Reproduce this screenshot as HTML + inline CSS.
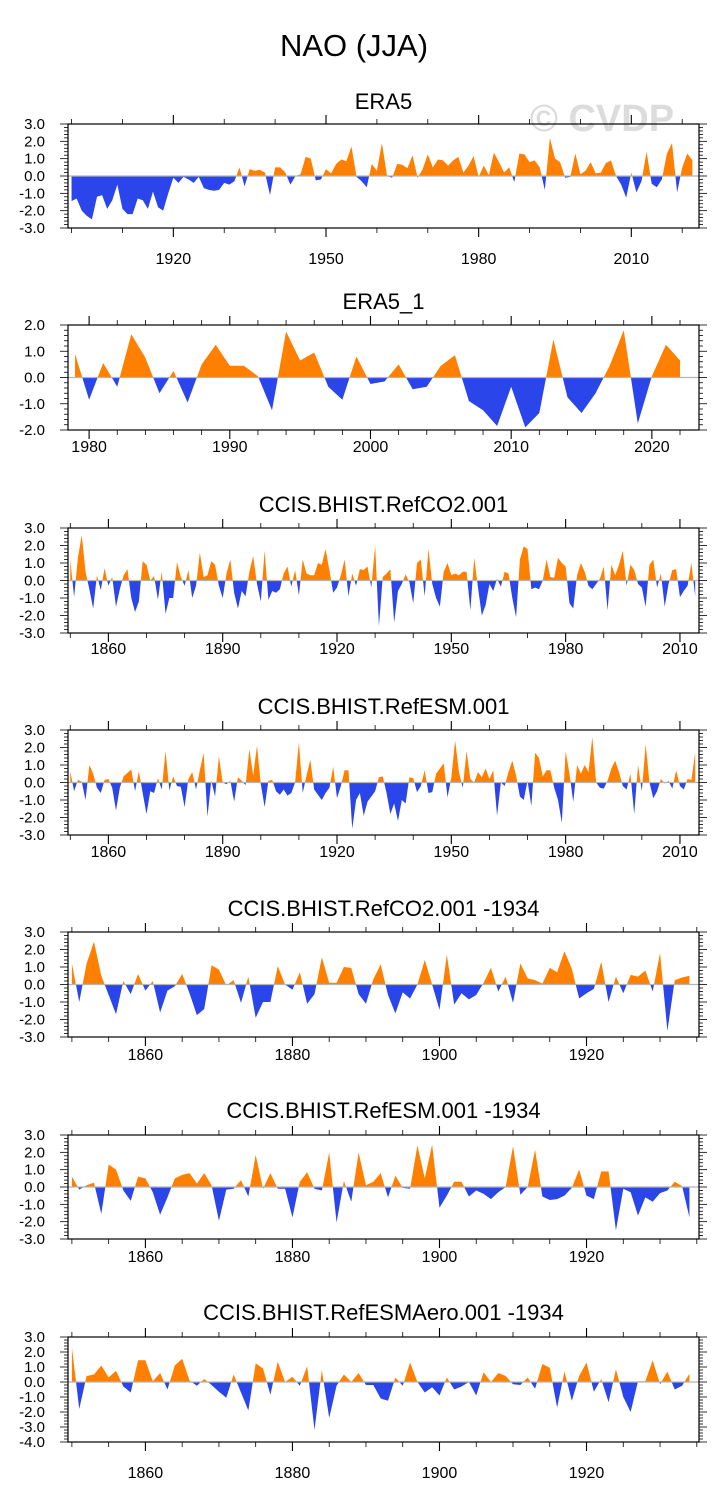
<!DOCTYPE html>
<html><head><meta charset="utf-8"><style>
html,body{margin:0;padding:0;background:#fff;}
svg{display:block;font-family:"Liberation Sans",Arial,sans-serif;}
</style></head><body>
<svg id="chart" width="728" height="1510" viewBox="0 0 728 1510" xmlns="http://www.w3.org/2000/svg">
<text x="354" y="56" text-anchor="middle" font-size="31">NAO (JJA)</text>
<text x="602" y="131" text-anchor="middle" font-size="38" font-weight="bold" fill="#dcdcdc">© CVDP</text>
</svg>
<script>
const era5Start = 1900;
const era5Values = [-1.45,-1.3,-2.0,-2.3,-2.5,-1.2,-1.1,-1.9,-1.4,-0.5,-1.9,-2.2,-2.2,-1.3,-1.4,-1.9,-0.9,-1.8,-2.0,-1.0,
-0.1,-0.4,-0.05,-0.2,-0.4,-0.05,-0.7,-0.8,-0.85,-0.8,-0.4,-0.5,-0.3,0.5,-0.6,0.4,0.3,0.35,0.2,-1.1,
0.5,0.5,0.2,-0.5,0.0,0.1,1.1,1.0,-0.25,-0.2,0.4,0.15,0.7,0.95,0.85,1.7,-0.05,-0.3,-0.65,0.7,
0.3,1.9,0.0,-0.1,0.7,0.65,0.45,1.2,-0.1,0.4,1.25,0.5,0.95,0.9,0.6,0.9,1.1,0.2,0.6,1.15,
-0.05,0.6,0.05,1.35,0.8,0.2,0.5,-0.35,1.3,1.25,0.8,0.9,0.5,-0.8,2.2,1.0,0.8,-0.1,-0.05,1.3,
0.1,0.3,0.8,0.15,0.2,0.75,0.9,0.0,-0.5,-1.25,0.2,-0.95,-0.3,1.4,-0.45,-0.65,-0.2,1.3,1.9,-0.95,
0.5,1.3,0.9];
const era51Start = 1979;
const era51Values = [0.9,-0.85,0.55,-0.35,1.65,0.75,-0.6,0.25,-0.95,0.5,1.25,0.45,0.45,0.05,-1.25,1.75,0.65,0.95,-0.35,-0.85,
0.8,-0.25,-0.15,0.5,-0.45,-0.35,0.45,0.85,-0.9,-1.25,-1.85,-0.35,-1.9,-1.35,1.45,-0.75,-1.35,-0.6,0.45,1.8,
-1.75,0.05,1.25,0.65];
const refCO2Start = 1850;
const refCO2Values = [1.2,-0.95,1.3,2.6,0.5,-0.5,-1.6,0.3,-0.55,0.7,-0.3,0.2,-1.5,-0.5,0.3,0.65,-1.0,-1.8,-1.2,1.1,
0.9,0.0,0.25,-1.1,0.5,-1.9,-1.0,-1.0,1.05,0.2,-0.3,0.6,-1.0,-0.3,1.6,0.2,0.3,1.1,0.9,-0.3,
-1.0,0.4,1.2,-0.7,-1.6,-0.6,-0.9,0.5,1.4,-0.2,-1.2,1.7,-1.1,-0.6,-0.7,-0.5,0.4,0.8,-0.35,0.6,
-0.85,1.2,0.4,0.3,0.3,1.0,0.9,1.8,0.6,-0.7,-0.4,0.3,1.2,-0.9,0.4,-0.3,0.65,0.6,0.8,-0.4,
2.0,-2.6,0.2,0.4,0.65,-2.4,-0.6,-0.2,0.35,-0.1,-1.3,1.0,1.2,-0.9,1.8,-0.2,-1.0,-1.5,0.5,1.0,
0.3,0.4,0.3,0.5,0.5,-1.7,1.3,-0.4,-2.0,-1.4,-0.2,-0.6,0.1,-0.35,0.5,0.4,-1.0,-2.1,1.2,1.95,
1.8,-0.5,-0.4,-0.5,0.0,1.2,0.2,0.15,1.3,1.0,0.8,-1.3,-1.6,0.3,1.0,0.5,-0.3,-0.5,-0.2,0.1,
0.8,-1.7,0.9,0.3,0.9,1.7,-0.3,0.9,0.6,-0.2,-0.4,-1.5,0.9,1.2,-0.4,0.4,-1.5,-0.2,0.6,0.65,
-0.95,-0.6,-0.3,1.0,-0.9];
const refESMStart = 1850;
const refESMValues = [0.65,-0.5,0.15,0.05,-1.0,1.0,0.5,-0.3,-0.6,0.15,0.2,-0.3,-1.6,-0.3,0.35,0.55,0.75,-0.5,0.65,-0.6,
-1.8,-0.5,-0.6,0.25,-0.4,1.8,-0.45,0.35,-0.2,-0.25,-1.4,0.2,0.6,-0.4,0.7,1.7,-1.95,0.1,-0.8,1.5,
0.0,-0.1,0.1,-1.1,0.3,0.1,-0.15,1.9,0.4,2.1,-0.1,-1.4,0.1,0.15,-0.5,-0.7,-0.4,-0.75,-0.6,0.0,
2.3,-0.6,0.4,1.3,-0.4,-0.7,-1.0,-0.6,-0.3,0.9,-0.9,-0.2,0.7,0.7,-2.65,-1.0,-0.6,-1.9,-1.1,-0.8,
-0.5,0.3,0.35,-0.6,-1.8,-1.2,-2.2,-1.0,-1.2,0.3,0.25,-0.55,-0.2,0.7,-0.6,-0.55,0.5,0.8,1.1,-0.85,
0.3,2.4,0.6,-0.3,1.8,0.2,0.0,0.6,0.3,0.8,0.2,0.7,-1.9,0.0,-0.2,0.6,1.25,0.4,-0.8,-1.0,
0.1,-1.35,1.7,1.4,0.35,0.7,0.7,-0.3,-1.0,-2.3,1.8,0.5,-1.1,1.0,0.5,1.0,0.6,2.6,0.0,-0.3,
-0.35,0.1,0.8,1.25,0.6,-0.2,-0.4,0.5,-1.8,1.0,-0.5,2.2,0.0,-0.9,-0.5,0.2,-0.05,0.1,-0.35,0.7,
-0.2,-0.4,0.2,0.15,1.7];
const co2PIStart = 1850;
const co2PIValues = [1.2,-1.0,1.2,2.45,0.5,-0.6,-1.7,0.2,-0.55,0.6,-0.35,0.2,-1.6,-0.35,-0.1,0.6,-0.5,-1.75,-1.4,1.1,
0.85,-0.05,0.25,-1.05,0.45,-1.9,-1.0,-1.0,1.05,0.0,-0.3,0.7,-1.1,-0.55,1.55,0.1,0.1,1.0,0.95,-0.55,
-1.1,0.3,1.15,-0.6,-1.65,-0.45,-0.8,0.0,1.4,0.0,-1.45,1.7,-1.15,-0.5,-0.85,-0.6,0.1,0.95,-0.4,0.45,
-1.05,1.2,0.35,0.25,0.05,0.95,0.7,1.9,0.9,-0.8,-0.5,-0.25,1.3,-1.0,0.45,-0.5,0.55,0.45,0.8,-0.4,
1.8,-2.65,0.25,0.4,0.5];
const esmPIStart = 1850;
const esmPIValues = [0.6,-0.15,0.1,0.25,-1.55,1.3,1.0,-0.2,-0.8,0.6,0.5,-0.3,-1.6,-0.6,0.5,0.7,0.8,0.2,0.8,0.1,
-1.95,-0.15,-0.1,0.4,-0.55,1.85,-0.1,0.8,-0.1,-0.1,-1.75,0.3,0.85,-0.1,-0.2,2.0,-2.05,0.35,-0.85,2.0,
0.1,0.3,0.8,-0.6,0.65,-0.05,-0.1,2.4,0.5,2.45,-1.2,-0.5,0.3,0.3,-0.55,-0.2,-0.4,-0.7,-0.3,0.0,
2.35,-0.45,0.0,2.15,-0.55,-0.75,-0.7,-0.5,-0.05,1.0,-0.5,-0.7,0.9,0.9,-2.5,-0.1,-0.3,-1.65,-0.6,-0.85,
-0.35,-0.2,0.3,0.05,-1.75];
const aeroPIStart = 1850;
const aeroPIValues = [2.3,-1.8,0.4,0.5,1.1,0.3,0.75,-0.3,-0.7,1.45,1.45,0.05,0.6,-0.5,1.1,1.55,0.1,-0.25,0.2,-0.2,
-0.65,-1.05,0.5,-0.7,-1.9,1.25,0.9,-0.85,1.35,0.0,0.35,-0.25,1.05,-3.2,0.8,-2.4,-0.25,0.5,0.0,0.6,
-0.2,-0.2,-1.1,-1.25,0.3,-0.25,1.3,0.0,-0.7,-0.35,-0.9,0.3,-0.5,-0.3,0.0,-0.9,0.65,0.0,0.6,0.4,
-0.15,-0.2,0.3,-0.45,1.2,0.95,-1.7,0.7,-1.25,0.4,1.3,-0.65,0.2,-1.35,0.85,-1.0,-2.0,0.05,0.05,1.45,
-0.15,0.7,-0.5,-0.25,0.55];

const yLabelsA = ["3.0","2.0","1.0","0.0","-1.0","-2.0","-3.0"];
const yLabelsB = ["2.0","1.0","0.0","-1.0","-2.0"];
const yLabelsC = ["3.0","2.0","1.0","0.0","-1.0","-2.0","-3.0","-4.0"];
const xLabelsA = ["1920","1950","1980","2010"];
const xLabelsB = ["1980","1990","2000","2010","2020"];
const xLabelsC = ["1860","1890","1920","1950","1980","2010"];
const xLabelsD = ["1860","1880","1900","1920"];

const NS = "http://www.w3.org/2000/svg";
const svg = document.getElementById("chart");
const X0 = 68, X1 = 699;

function mk(tag, attrs, parent){
  const e = document.createElementNS(NS, tag);
  for (const k in attrs) e.setAttribute(k, attrs[k]);
  parent.appendChild(e);
  return e;
}

const panels = [
 {id:"era5", title:"ERA5", values:era5Values, start:era5Start, xmin:1899.3, xmax:2023.3, yLabels:yLabelsA, top:124, bottom:228, xLabels:xLabelsA, minor:10, titleY:109, labelY:264},
 {id:"era5-1", title:"ERA5_1", values:era51Values, start:era51Start, xmin:1978.5, xmax:2023.35, yLabels:yLabelsB, top:325, bottom:430, xLabels:xLabelsB, minor:2, titleY:309, labelY:452},
 {id:"refco2", title:"CCIS.BHIST.RefCO2.001", values:refCO2Values, start:refCO2Start, xmin:1849.4, xmax:2015.0, yLabels:yLabelsA, top:528, bottom:633, xLabels:xLabelsC, minor:10, titleY:512, labelY:654},
 {id:"refesm", title:"CCIS.BHIST.RefESM.001", values:refESMValues, start:refESMStart, xmin:1849.4, xmax:2015.0, yLabels:yLabelsA, top:730, bottom:835, xLabels:xLabelsC, minor:10, titleY:714, labelY:857},
 {id:"refco2-1934", title:"CCIS.BHIST.RefCO2.001 -1934", values:co2PIValues, start:co2PIStart, xmin:1849.47, xmax:1935.3, yLabels:yLabelsA, top:932, bottom:1037, xLabels:xLabelsD, minor:5, titleY:916, labelY:1060},
 {id:"refesm-1934", title:"CCIS.BHIST.RefESM.001 -1934", values:esmPIValues, start:esmPIStart, xmin:1849.47, xmax:1935.3, yLabels:yLabelsA, top:1135, bottom:1239, xLabels:xLabelsD, minor:5, titleY:1118, labelY:1262},
 {id:"refesmaero-1934", title:"CCIS.BHIST.RefESMAero.001 -1934", values:aeroPIValues, start:aeroPIStart, xmin:1849.47, xmax:1935.3, yLabels:yLabelsC, top:1337, bottom:1442, xLabels:xLabelsD, minor:5, titleY:1320, labelY:1478}
];

panels.forEach(function(p, pi){
  const g = mk("g", {}, svg);
  
  
  const ymax = parseFloat(p.yLabels[0]);
  const ymin = parseFloat(p.yLabels[p.yLabels.length-1]);
  const xs = function(yr){ return X0 + (yr - p.xmin)/(p.xmax - p.xmin)*(X1 - X0); };
  const ys = function(v){ return p.top + (ymax - v)/(ymax - ymin)*(p.bottom - p.top); };
  const y0 = ys(0);

  const t = mk("text", {x:(X0+X1)/2, y:p.titleY, "text-anchor":"middle", "font-size":"22"}, g);
  t.textContent = p.title;
  
  

  const defs = mk("defs", {}, g);
  const cpA = mk("clipPath", {id:"ca"+pi}, defs);
  mk("rect", {x:X0, y:p.top, width:X1-X0, height:y0-p.top}, cpA);
  const cpB = mk("clipPath", {id:"cb"+pi}, defs);
  mk("rect", {x:X0, y:y0, width:X1-X0, height:p.bottom-y0}, cpB);

  let pts = [];
  p.values.forEach(function(v,i){ pts.push(xs(p.start+i).toFixed(2)+","+ys(v).toFixed(2)); });
  const firstX = xs(p.start).toFixed(2), lastX = xs(p.start+p.values.length-1).toFixed(2);
  const poly = firstX+","+y0.toFixed(2)+" "+pts.join(" ")+" "+lastX+","+y0.toFixed(2);
  const pos = mk("polygon", {points:poly, fill:"#ff8000", "clip-path":"url(#ca"+pi+")"}, g);
  
  
  const neg = mk("polygon", {points:poly, fill:"#2a46ea", "clip-path":"url(#cb"+pi+")"}, g);
  
  
  const zl = mk("line", {x1:X0, x2:X1, y1:y0, y2:y0, stroke:"#b4b4b4", "stroke-width":"1.2"}, g);
  
  

  const fr = mk("rect", {x:X0, y:p.top, width:X1-X0, height:p.bottom-p.top, fill:"none", stroke:"#000", "stroke-width":"1.2"}, g);
  
  

  for (let k = Math.round(ymin*5); k <= Math.round(ymax*5); k++){
    const v = k/5, yy = ys(v), major = (k % 5 === 0);
    const L = major ? 8 : 4;
    mk("line", {x1:X0-L, x2:X0, y1:yy, y2:yy, stroke:"#000", "stroke-width":"0.8"}, g);
    mk("line", {x1:X1, x2:X1+L, y1:yy, y2:yy, stroke:"#000", "stroke-width":"0.8"}, g);
  }
  p.yLabels.forEach(function(lb){
    const tt = mk("text", {x:45, y:ys(parseFloat(lb))+5, "text-anchor":"end", "font-size":"15"}, g);
    tt.textContent = lb;
    
    
  });
  const step = parseFloat(p.xLabels[1]) - parseFloat(p.xLabels[0]);
  const firstMajor = parseFloat(p.xLabels[0]);
  for (let yr = Math.ceil(p.xmin/p.minor)*p.minor; yr <= p.xmax; yr += p.minor){
    const xx = xs(yr);
    const major = (((yr - firstMajor) % step) + step) % step === 0;
    const L = major ? 9 : 5;
    mk("line", {x1:xx, x2:xx, y1:p.bottom, y2:p.bottom+L, stroke:"#000", "stroke-width":major?"1.1":"0.8"}, g);
    mk("line", {x1:xx, x2:xx, y1:p.top-L, y2:p.top, stroke:"#000", "stroke-width":major?"1.1":"0.8"}, g);
  }
  p.xLabels.forEach(function(lb){
    const tt = mk("text", {x:xs(parseFloat(lb)), y:p.labelY, "text-anchor":"middle", "font-size":"16"}, g);
    tt.textContent = lb;
    
    
  });
});
</script>
</body></html>
